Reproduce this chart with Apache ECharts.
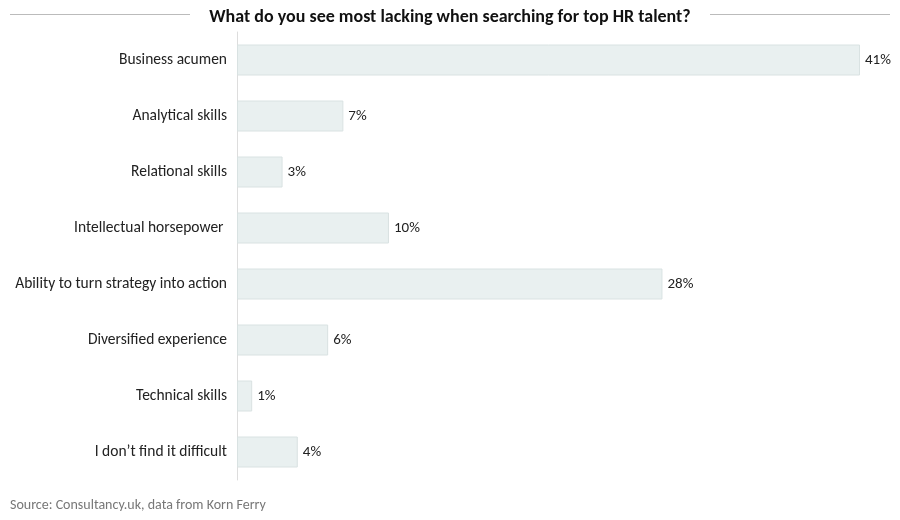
<!DOCTYPE html>
<html><head><meta charset="utf-8">
<script src="https://cdn.jsdelivr.net/npm/echarts@6/dist/echarts.min.js"></script>
<style>body{margin:0}#c{width:900px;height:520px}</style></head>
<body><div id="c"></div>
<script>
const categories = ["Business acumen","Analytical skills","Relational skills","Intellectual horsepower ","Ability to turn strategy into action","Diversified experience","Technical skills","I don\u2019t find it difficult"];
const values = [41,7,3,10,28,6,1,4];
const chart = echarts.init(document.getElementById('c'));
const F = 'Calibri, Carlito, Lato, "Open Sans", sans-serif';
chart.setOption({
  animation:false,
  title:{text:'What do you see most lacking when searching for top HR talent?',left:'center',top:3,
    textStyle:{fontFamily:F,fontSize:18,fontWeight:'bold',color:'#111'}},
  graphic:[
    {type:'line',shape:{x1:10,y1:14.5,x2:190,y2:14.5},style:{stroke:'#bbb',lineWidth:1}},
    {type:'line',shape:{x1:710,y1:14.5,x2:890,y2:14.5},style:{stroke:'#bbb',lineWidth:1}},
    {type:'text',left:10,top:498,style:{text:'Source: Consultancy.uk, data from Korn Ferry',fill:'#777',font:'14px '+F}}
  ],
  grid:{left:237,right:40,top:32,bottom:40},
  xAxis:{type:'value',min:0,max:41,show:false},
  yAxis:{type:'category',data:categories,inverse:true,
    axisLine:{lineStyle:{color:'#ddd'}},axisTick:{show:false},
    axisLabel:{margin:10,fontFamily:F,fontSize:15.5,color:'#222'}},
  series:[{type:'bar',data:values,barWidth:31,
    itemStyle:{color:'#e9f0f0',borderColor:'#d9e2e2',borderWidth:1},
    label:{show:true,position:'right',formatter:'{c}%',fontFamily:F,fontSize:15,color:'#222',distance:5}}]
});
</script></body></html>
